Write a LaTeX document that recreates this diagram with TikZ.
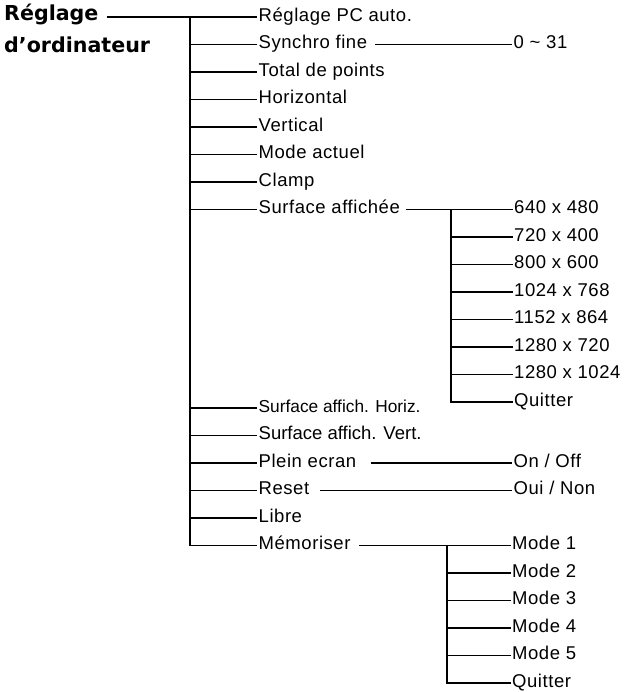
\documentclass[tikz,border=0pt]{standalone}
\usepackage{fontspec}
\setmainfont{Liberation Sans}
\newfontfamily\menufont[LetterSpace=3]{Liberation Sans}
\newfontfamily\titlefont{DejaVu Sans}
\usetikzlibrary{positioning}
\tikzstyle{line} = [draw, line width=1.2pt]
\tikzstyle{item} = [anchor=west, inner sep=1.5pt, text height=13pt, text depth=4.5pt, font=\menufont\fontsize{18.5}{22}\selectfont]
\tikzstyle{title} = [anchor=west, inner sep=0pt, text height=14pt, text depth=6pt, font=\titlefont\bfseries\fontsize{20.6}{25}\selectfont]

\begin{document}
\begin{tikzpicture}[x=1pt, y=-1pt, node distance=27.5pt]
        \useasboundingbox (0,0) rectangle (623,692);
        \node[title] (title) at (4,17) {Réglage};
        \node[title] (title2) at (4,49) {d’ordinateur};
        \coordinate (trunk) at (190,17);
        \coordinate (vcol) at (512,0);
        % main list
        \node[item] (pcauto) at (257,17) {Réglage PC auto.};
        \node[item, below=of pcauto.west, anchor=west] (synchro) {Synchro fine};
        \node[item, below=of synchro.west, anchor=west] (total) {Total de points};
        \node[item, below=of total.west, anchor=west] (horiz) {Horizontal};
        \node[item, below=of horiz.west, anchor=west] (vert) {Vertical};
        \node[item, below=of vert.west, anchor=west] (mode) {Mode actuel};
        \node[item, below=of mode.west, anchor=west] (clamp) {Clamp};
        \node[item, below=of clamp.west, anchor=west] (surface) {Surface affichée};
        \node[item, font=\rmfamily\fontsize{17.3}{21}\selectfont] (sahoriz) at (257,408) {Surface affich. Horiz.};
        \node[item, below=of sahoriz.west, anchor=west, font=\rmfamily\fontsize{18.5}{22}\selectfont] (savert) {Surface affich. Vert.};
        \node[item, below=of savert.west, anchor=west] (plein) {Plein ecran};
        \node[item, below=of plein.west, anchor=west] (reset) {Reset};
        \node[item, below=of reset.west, anchor=west] (libre) {Libre};
        \node[item, below=of libre.west, anchor=west] (memo) {Mémoriser};
        % values
        \node[item] (range) at (synchro.west -| vcol) {0 \textasciitilde{} 31};
        \node[item] (onoff) at (plein.west -| vcol) {On / Off};
        \node[item] (ouinon) at (reset.west -| vcol) {Oui / Non};
        % surface sub list
        \coordinate (strunk) at (surface.west -| 451,0);
        \node[item] (r640) at (surface.west -| 512.5,0) {640 x 480};
        \node[item, below=of r640.west, anchor=west] (r720) {720 x 400};
        \node[item, below=of r720.west, anchor=west] (r800) {800 x 600};
        \node[item, below=of r800.west, anchor=west] (r1024) {1024 x 768};
        \node[item, below=of r1024.west, anchor=west] (r1152) {1152 x 864};
        \node[item, below=of r1152.west, anchor=west] (r1280a) {1280 x 720};
        \node[item, below=of r1280a.west, anchor=west] (r1280b) {1280 x 1024};
        \node[item, below=of r1280b.west, anchor=west] (quit1) {Quitter};
        % memory sub list
        \coordinate (mtrunk) at (memo.west -| 447,0);
        \node[item] (m1) at (memo.west -| 510.5,0) {Mode 1};
        \node[item, below=of m1.west, anchor=west] (m2) {Mode 2};
        \node[item, below=of m2.west, anchor=west] (m3) {Mode 3};
        \node[item, below=of m3.west, anchor=west] (m4) {Mode 4};
        \node[item, below=of m4.west, anchor=west] (m5) {Mode 5};
        \node[item, below=of m5.west, anchor=west] (quit2) {Quitter};
        % connectors
        \path[line] ([xshift=8pt]title.east) -- (pcauto.west);
        \path[line] (trunk) |- (memo.west);
        \path[line] (trunk |- synchro.west) -- (synchro.west);
        \path[line] (trunk |- total.west) -- (total.west);
        \path[line] (trunk |- horiz.west) -- (horiz.west);
        \path[line] (trunk |- vert.west) -- (vert.west);
        \path[line] (trunk |- mode.west) -- (mode.west);
        \path[line] (trunk |- clamp.west) -- (clamp.west);
        \path[line] (trunk |- surface.west) -- (surface.west);
        \path[line] (trunk |- sahoriz.west) -- (sahoriz.west);
        \path[line] (trunk |- savert.west) -- (savert.west);
        \path[line] (trunk |- plein.west) -- (plein.west);
        \path[line] (trunk |- reset.west) -- (reset.west);
        \path[line] (trunk |- libre.west) -- (libre.west);
        \path[line] ([xshift=6pt]synchro.east) -- (range.west);
        \path[line] ([xshift=13pt]plein.east) -- (onoff.west);
        \path[line] ([xshift=9pt]reset.east) -- (ouinon.west);
        \path[line] ([xshift=4pt]surface.east) -- (r640.west);
        \path[line] (strunk) |- (quit1.west);
        \path[line] (strunk |- r720.west) -- (r720.west);
        \path[line] (strunk |- r800.west) -- (r800.west);
        \path[line] (strunk |- r1024.west) -- (r1024.west);
        \path[line] (strunk |- r1152.west) -- (r1152.west);
        \path[line] (strunk |- r1280a.west) -- (r1280a.west);
        \path[line] (strunk |- r1280b.west) -- (r1280b.west);
        \path[line] ([xshift=7pt]memo.east) -- (m1.west);
        \path[line] (mtrunk) |- (quit2.west);
        \path[line] (mtrunk |- m2.west) -- (m2.west);
        \path[line] (mtrunk |- m3.west) -- (m3.west);
        \path[line] (mtrunk |- m4.west) -- (m4.west);
        \path[line] (mtrunk |- m5.west) -- (m5.west);
    \end{tikzpicture}
\end{document}
